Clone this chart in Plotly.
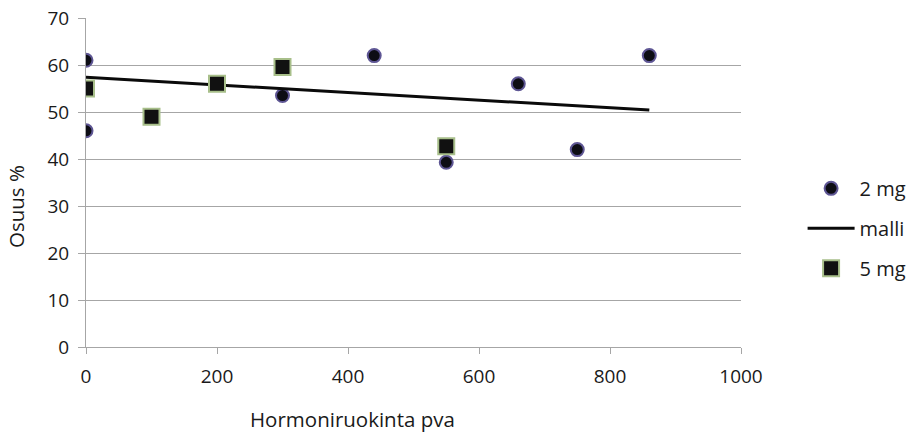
import plotly.graph_objects as go

x_2mg = [0, 0, 300, 440, 550, 660, 750, 860]
y_2mg = [61, 46, 53.5, 62, 39.3, 56, 42, 62]

x_malli = [0, 860]
y_malli = [57.4, 50.4]

x_5mg = [0, 100, 200, 300, 550]
y_5mg = [55, 49, 56, 59.6, 42.7]

x_ticks = [0, 200, 400, 600, 800, 1000]
y_ticks = [0, 10, 20, 30, 40, 50, 60, 70]

x_title = "Hormoniruokinta pva"
y_title = "Osuus %"

FONT = "Open Sans"
FS_TICK = 19
FS_LEG = 20
FS_TITLE = 20.5
GRID = "#a6a6a6"
TXT = "#1a1a1a"

fig = go.Figure()
fig.add_trace(go.Scatter(
    x=x_2mg, y=y_2mg, mode="markers", name="2 mg", legendgroup="a",
    marker=dict(symbol="circle", size=13, color="#0d0d14",
                line=dict(color="#5e5694", width=2)),
))
fig.add_trace(go.Scatter(
    x=x_malli, y=y_malli, mode="lines", name="malli", legendgroup="b",
    line=dict(color="#0a0a0a", width=3),
))
fig.add_trace(go.Scatter(
    x=x_5mg, y=y_5mg, mode="markers", name="5 mg", legendgroup="c",
    marker=dict(symbol="square", size=16, color="#111111",
                line=dict(color="#a8bf8a", width=2)),
))

fig.update_layout(
    width=911, height=434,
    margin=dict(l=86, r=170, t=18, b=87, autoexpand=False),
    plot_bgcolor="white", paper_bgcolor="white",
    font=dict(family=FONT, size=FS_TICK, color=TXT),
    showlegend=True,
    legend=dict(x=0.881, xanchor="left", xref="container", y=0.611, yanchor="top",
                yref="container",
                tracegroupgap=11, traceorder="grouped",
                font=dict(size=FS_LEG, family=FONT, color=TXT), bgcolor="rgba(0,0,0,0)",
                itemwidth=47),
    xaxis=dict(
        range=[0, 1000], tickvals=x_ticks, showgrid=False, zeroline=False,
        showline=True, linecolor=GRID, linewidth=1, automargin=False,
        ticks="outside", ticklen=6, tickcolor=GRID,
        ticklabelstandoff=6,
        tickfont=dict(size=FS_TICK, family=FONT, color=TXT),
    ),
    yaxis=dict(
        range=[0, 70], tickvals=y_ticks, showgrid=True, gridcolor=GRID, gridwidth=1,
        zeroline=False, showline=True, linecolor=GRID, linewidth=1, automargin=False,
        ticks="outside", ticklen=7, tickcolor=GRID,
        ticklabelstandoff=5,
        tickfont=dict(size=FS_TICK, family=FONT, color=TXT),
    ),
    annotations=[
        dict(text=x_title, xref="paper", yref="paper", x=(352 - 86) / 655, y=-(419 - 347) / 329,
             xanchor="center", yanchor="middle", showarrow=False,
             font=dict(size=FS_TITLE, family=FONT, color=TXT)),
        dict(text=y_title, xref="paper", yref="paper", x=-(86 - 16) / 655, y=(347 - 207) / 329,
             xanchor="center", yanchor="middle", showarrow=False, textangle=-90,
             font=dict(size=FS_TITLE, family=FONT, color=TXT)),
    ],
)
fig.write_html("out.html")
